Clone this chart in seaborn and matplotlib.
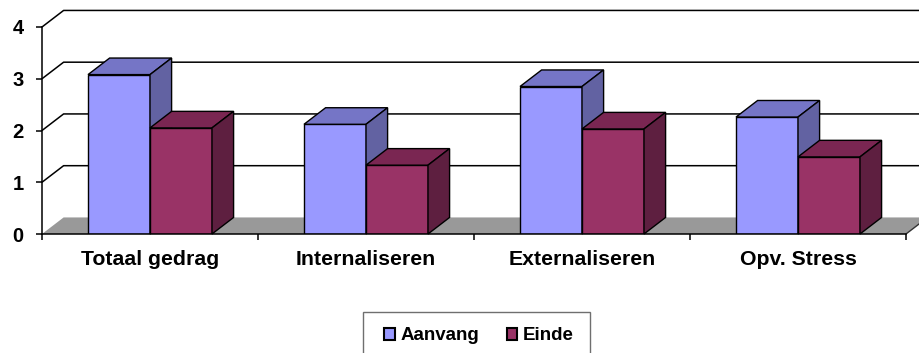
import matplotlib
matplotlib.use("Agg")
import matplotlib.pyplot as plt
import pandas as pd
import seaborn as sns
from matplotlib.patches import Polygon, Patch, Rectangle

# Chart data
categories = ["Totaal gedrag", "Internaliseren", "Externaliseren", "Opv. Stress"]
series = ["Aanvang", "Einde"]
aanvang = [3.08, 2.12, 2.85, 2.26]
einde = [2.05, 1.33, 2.03, 1.49]
y_ticks = [0, 1, 2, 3, 4]

# Face colours for the pseudo-3D columns (front, top, side)
front_colors = ["#9999FF", "#993366"]
top_colors = ["#7575C6", "#7A2652"]
side_colors = ["#6262A2", "#5E1F40"]

# Depth of the box in data units (x: categories, y: values)
DX, DY = 0.1, 0.32

sns.set_theme(style="white")
plt.rcParams["font.family"] = ["Liberation Sans", "DejaVu Sans"]
plt.rcParams["font.weight"] = "bold"

df = pd.DataFrame({
    "categorie": categories * 2,
    "waarde": aanvang + einde,
    "meting": [series[0]] * len(categories) + [series[1]] * len(categories),
})

W, H = 920, 353
fig = plt.figure(figsize=(W / 100, H / 100), dpi=100)
ax = fig.add_axes([42 / W, 1 - 234 / H, 864 / W, 207 / H])

sns.barplot(data=df, x="categorie", y="waarde", hue="meting",
            palette=front_colors, saturation=1, width=0.574,
            edgecolor="black", linewidth=1.0, legend=False, ax=ax)

ax.set_xlim(-0.5, 3.5)
ax.set_ylim(0, 4)
xl = ax.get_xlim()

# grey floor
floor = Polygon([(xl[0], 0), (xl[1], 0), (xl[1] + DX, DY), (xl[0] + DX, DY)],
                closed=True, facecolor="#999999", edgecolor="none",
                clip_on=False, zorder=0.5)
ax.add_patch(floor)
ax.plot([xl[1], xl[1] + DX], [0, DY], color="#333333", lw=1,
        clip_on=False, zorder=0.6)

# back-wall gridlines with their diagonal on the side wall
for v in y_ticks[1:]:
    ax.plot([xl[0], xl[0] + DX, xl[1] + 2 * DX], [v, v + DY, v + DY],
            color="black", lw=1.1, clip_on=False, zorder=0.6)

# top and side faces for every column
for i, container in enumerate(ax.containers):
    z = 2 + i
    for bar in container:
        bar.set_zorder(z)
        x0, w, h = bar.get_x(), bar.get_width(), bar.get_height()
        top = Polygon([(x0, h), (x0 + w, h), (x0 + w + DX, h + DY), (x0 + DX, h + DY)],
                      closed=True, facecolor=top_colors[i], edgecolor="black",
                      lw=1.0, clip_on=False, zorder=z)
        side = Polygon([(x0 + w, 0), (x0 + w + DX, DY), (x0 + w + DX, h + DY), (x0 + w, h)],
                       closed=True, facecolor=side_colors[i], edgecolor="black",
                       lw=1.0, clip_on=False, zorder=z)
        ax.add_patch(top)
        ax.add_patch(side)

# axes styling
for s in ["top", "right"]:
    ax.spines[s].set_visible(False)
for s in ["left", "bottom"]:
    ax.spines[s].set_color("black")
    ax.spines[s].set_linewidth(1.1)
    ax.spines[s].set_zorder(5)

ax.set_xlabel("")
ax.set_ylabel("")
ax.set_yticks(y_ticks)
ax.tick_params(axis="y", length=4.3, width=1.1, color="black", direction="out",
               pad=9, labelsize=14.5, left=True)
ax.set_xticks(range(len(categories)), categories)
ax.set_xticks([k - 0.5 for k in range(len(categories) + 1)], minor=True)
ax.tick_params(axis="x", which="major", length=0, pad=11.5, labelsize=15.3)
ax.tick_params(axis="x", which="minor", length=4.3, width=1.1, color="black",
               direction="out", bottom=True)
for lbl in ax.get_xticklabels() + ax.get_yticklabels():
    lbl.set_fontweight("bold")
    lbl.set_color("black")

# legend (frame drawn separately so it can run past the bottom edge)
handles = [Patch(facecolor=c, edgecolor="black", lw=1.5) for c in front_colors]
leg = fig.legend(handles, series, loc="center",
                 bbox_to_anchor=(479 / W, 1 - 336 / H), ncol=2,
                 frameon=False, prop=dict(weight="bold", size=13.5),
                 handlelength=0.55, handleheight=0.55, handletextpad=0.3,
                 columnspacing=1.5, borderpad=0.2)
for t in leg.get_texts():
    t.set_color("black")
fig.patches.append(Rectangle((363 / W, -0.05), 227 / W, (H - 312) / H + 0.05,
                             transform=fig.transFigure, fill=False,
                             edgecolor="#6f6f6f", lw=1.0))

fig.savefig("out.png", dpi=100)
